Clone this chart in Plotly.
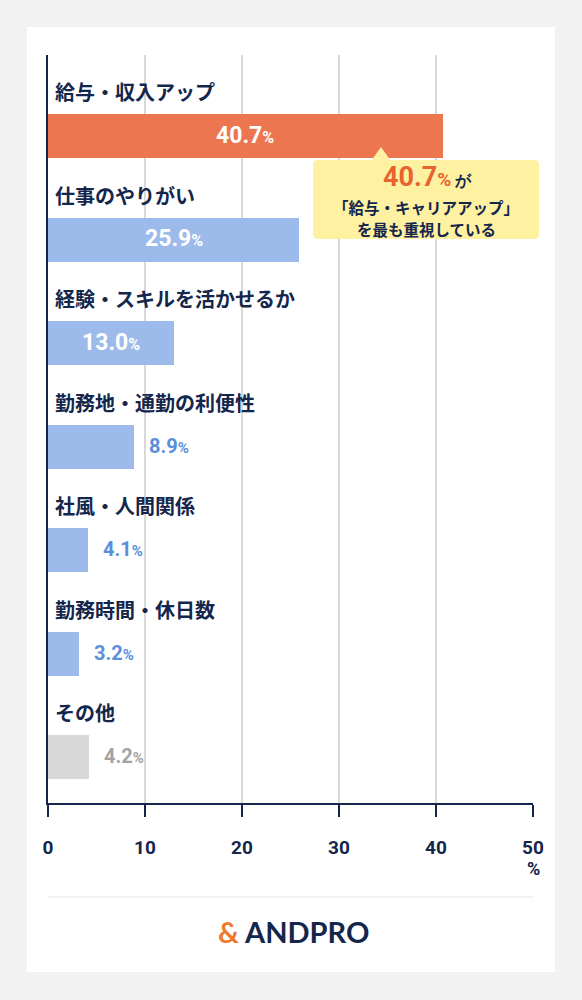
import plotly.graph_objects as go

categories = ["給与・収入アップ", "仕事のやりがい", "経験・スキルを活かせるか",
              "勤務地・通勤の利便性", "社風・人間関係", "勤務時間・休日数", "その他"]
values = [40.7, 25.9, 13.0, 8.9, 4.1, 3.2, 4.2]
bar_colors = ["#EB7650", "#9DBBEA", "#9DBBEA", "#9DBBEA", "#9DBBEA", "#9DBBEA", "#D8D8D8"]
inside = [True, True, True, False, False, False, False]
out_colors = ["#FFFFFF", "#FFFFFF", "#FFFFFF", "#5B8EDB", "#5B8EDB", "#5B8EDB", "#A3A3A3"]
x_ticks = [0, 10, 20, 30, 40, 50]

NAVY = "#14264B"
JP = "Noto Sans CJK JP"

W, H = 582, 1000
L, R, T, B = 48, 533, 55, 803


def xp(px):
    return (px - L) / (R - L)


def yp(py):
    return (B - py) / (B - T)


fig = go.Figure()
ypos = list(range(len(categories)))
fig.add_trace(go.Bar(
    x=values, y=ypos, orientation="h", width=0.425,
    marker=dict(color=bar_colors, line=dict(width=0)),
    hoverinfo="skip", showlegend=False,
))

annotations = []
for i, (cat, v) in enumerate(zip(categories, values)):
    annotations.append(dict(
        x=0, y=i - 0.43, xref="x", yref="y", text=f"<b>{cat}</b>",
        showarrow=False, xanchor="left", yanchor="middle", xshift=5,
        font=dict(family=JP, size=20, color=NAVY),
    ))
    if inside[i]:
        txt = f"<b>{v:.1f}</b><span style='font-size:16px'><b>%</b></span>"
        annotations.append(dict(
            x=v / 2, y=i, xref="x", yref="y", text=txt, showarrow=False,
            xanchor="center", yanchor="middle", yshift=1,
            font=dict(family="Roboto", size=23, color=out_colors[i]),
        ))
    else:
        txt = f"<b>{v:.1f}</b><span style='font-size:15px'><b>%</b></span>"
        annotations.append(dict(
            x=v, y=i, xref="x", yref="y", text=txt, showarrow=False,
            xanchor="left", yanchor="middle", xshift=13, yshift=1,
            font=dict(family="Roboto", size=20, color=out_colors[i]),
        ))

# "%" unit under axis
annotations.append(dict(x=xp(533), y=yp(869), xref="paper", yref="paper",
                        text="<b>%</b>", showarrow=False, xanchor="center", yanchor="middle",
                        font=dict(family="Roboto", size=18, color=NAVY)))

# callout text
annotations.append(dict(
    x=xp(427), y=yp(177), xref="paper", yref="paper", showarrow=False,
    xanchor="center", yanchor="middle",
    text="<b><span style='color:#E8642F;font-size:27px'>40.7</span>"
         "<span style='color:#E8642F;font-size:19px'>%</span>"
         "<span style='font-size:16px'> が</span></b>",
    font=dict(family="Roboto", size=16, color=NAVY)))
annotations.append(dict(
    x=xp(426), y=yp(207), xref="paper", yref="paper", showarrow=False,
    xanchor="center", yanchor="middle", text="<b>「給与・キャリアアップ」</b>",
    font=dict(family=JP, size=15.5, color=NAVY)))
annotations.append(dict(
    x=xp(426), y=yp(229), xref="paper", yref="paper", showarrow=False,
    xanchor="center", yanchor="middle", text="<b>を最も重視している</b>",
    font=dict(family=JP, size=15.5, color=NAVY)))

# logo
annotations.append(dict(
    x=xp(293), y=yp(932), xref="paper", yref="paper", showarrow=False,
    xanchor="center", yanchor="middle",
    text="<b><span style='color:#EE7A2E'>&</span> ANDPRO</b>",
    font=dict(family="Lato", size=29, color=NAVY)))


def rrect(x0, y0, x1, y1, r):
    pts = [
        ("M", x0 + r, y0), ("L", x1 - r, y0), ("Q", x1, y0, x1, y0 + r),
        ("L", x1, y1 - r), ("Q", x1, y1, x1 - r, y1), ("L", x0 + r, y1),
        ("Q", x0, y1, x0, y1 - r), ("L", x0, y0 + r), ("Q", x0, y0, x0 + r, y0),
    ]
    s = ""
    for p in pts:
        if p[0] == "Q":
            s += f"Q{xp(p[1])},{yp(p[2])} {xp(p[3])},{yp(p[4])} "
        else:
            s += f"{p[0]}{xp(p[1])},{yp(p[2])} "
    return s + "Z"


shapes = [
    # white card
    dict(type="rect", xref="paper", yref="paper", x0=xp(27), x1=xp(555), y0=yp(27), y1=yp(972),
         fillcolor="white", line=dict(width=0), layer="below"),
    # callout box
    dict(type="path", xref="paper", yref="paper", path=rrect(313, 160, 539, 239, 5),
         fillcolor="#FEF1A2", line=dict(width=0), layer="above"),
    dict(type="path", xref="paper", yref="paper",
         path=f"M{xp(371)},{yp(161)} L{xp(381)},{yp(147)} L{xp(391)},{yp(161)} Z",
         fillcolor="#FEF1A2", line=dict(width=0), layer="above"),
    # separator
    dict(type="line", xref="paper", yref="paper", x0=xp(48), x1=xp(533), y0=yp(897), y1=yp(897),
         line=dict(color="#E3E3E3", width=1)),
]

fig.update_layout(
    width=W, height=H,
    margin=dict(l=L, r=W - R, t=T, b=H - B, pad=0),
    paper_bgcolor="#F2F2F2", plot_bgcolor="rgba(0,0,0,0)",
    bargap=0,
    xaxis=dict(range=[0, 50], tickvals=x_ticks, ticktext=[f"<b>{t}</b>" for t in x_ticks],
               showgrid=True, gridcolor="#D9D9D9", gridwidth=1.5, zeroline=False,
               showline=True, linecolor=NAVY, linewidth=2,
               ticks="outside", ticklen=12, tickwidth=2, tickcolor=NAVY,
               ticklabelstandoff=14,
               tickfont=dict(family="Roboto", size=19, color=NAVY), fixedrange=True),
    yaxis=dict(range=[6.444, -0.783], showgrid=False, zeroline=False, showticklabels=False,
               showline=True, linecolor=NAVY, linewidth=2, ticks="", fixedrange=True),
    annotations=annotations,
    shapes=shapes,
)

fig.write_html("out.html", config={"displayModeBar": False},
               post_script="document.body.style.margin='0';document.body.style.background='#F2F2F2';")
